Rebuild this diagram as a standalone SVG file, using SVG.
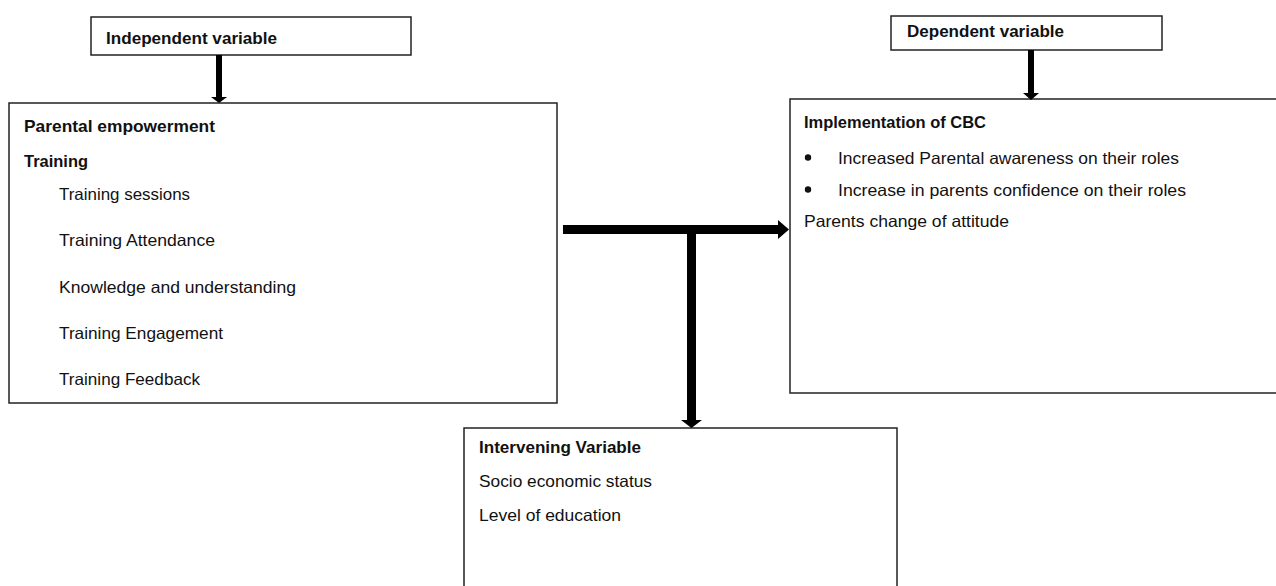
<svg xmlns="http://www.w3.org/2000/svg" width="1276" height="586" viewBox="0 0 1276 586">
  <style>
    .box { fill: #ffffff; stroke: #222222; stroke-width: 1.5; }
    .t { font-family: "Liberation Sans", Arial, sans-serif; font-size: 16.5px; fill: #111111; }
    .b { font-weight: bold; }
    .arrow { fill: #000000; stroke: none; }
  </style>
  <rect x="0" y="0" width="1276" height="586" fill="#ffffff"/>

  <g id="independent-variable">
    <rect class="box" x="91" y="17" width="320" height="38"/>
    <text class="t b" x="106" y="44" textLength="171" lengthAdjust="spacingAndGlyphs">Independent variable</text>
  </g>

  <g id="parental-empowerment">
    <rect class="box" x="9" y="103" width="548" height="300"/>
    <text class="t b" x="24" y="132" textLength="191" lengthAdjust="spacingAndGlyphs">Parental empowerment</text>
    <text class="t b" x="24" y="167" textLength="64" lengthAdjust="spacingAndGlyphs">Training</text>
    <text class="t" x="59" y="200" textLength="131" lengthAdjust="spacingAndGlyphs">Training sessions</text>
    <text class="t" x="59" y="246" textLength="156" lengthAdjust="spacingAndGlyphs">Training Attendance</text>
    <text class="t" x="59" y="293" textLength="237" lengthAdjust="spacingAndGlyphs">Knowledge and understanding</text>
    <text class="t" x="59" y="339" textLength="164" lengthAdjust="spacingAndGlyphs">Training Engagement</text>
    <text class="t" x="59" y="385" textLength="141" lengthAdjust="spacingAndGlyphs">Training Feedback</text>
  </g>

  <g id="dependent-variable">
    <rect class="box" x="891" y="16" width="271" height="34"/>
    <text class="t b" x="907" y="37" textLength="157" lengthAdjust="spacingAndGlyphs">Dependent variable</text>
  </g>

  <g id="implementation-of-cbc">
    <rect class="box" x="790" y="99" width="500" height="294"/>
    <text class="t b" x="804" y="128" textLength="182" lengthAdjust="spacingAndGlyphs">Implementation of CBC</text>
    <circle cx="808" cy="157.5" r="3.2" fill="#111111"/>
    <text class="t" x="838" y="164" textLength="341" lengthAdjust="spacingAndGlyphs">Increased Parental awareness on their roles</text>
    <circle cx="808" cy="189.5" r="3.2" fill="#111111"/>
    <text class="t" x="838" y="196" textLength="348" lengthAdjust="spacingAndGlyphs">Increase in parents confidence on their roles</text>
    <text class="t" x="804" y="227" textLength="205" lengthAdjust="spacingAndGlyphs">Parents change of attitude</text>
  </g>

  <g id="intervening-variable">
    <rect class="box" x="464" y="428" width="433" height="170"/>
    <text class="t b" x="479" y="453" textLength="162" lengthAdjust="spacingAndGlyphs">Intervening Variable</text>
    <text class="t" x="479" y="487" textLength="173" lengthAdjust="spacingAndGlyphs">Socio economic status</text>
    <text class="t" x="479" y="521" textLength="142" lengthAdjust="spacingAndGlyphs">Level of education</text>
  </g>

  <g id="connectors">
    <polygon class="arrow" points="216,55 222,55 222,97 227,97 219,103 211,97 216,97"/>
    <polygon class="arrow" points="1028,50 1034,50 1034,93 1039,93 1031,100 1023,93 1028,93"/>
    <polygon class="arrow" points="563,225 778,225 778,220 789,229.5 778,239 778,234 563,234"/>
    <polygon class="arrow" points="687,229 696,229 696,420 702,420 691.5,428 681,420 687,420"/>
  </g>
</svg>
